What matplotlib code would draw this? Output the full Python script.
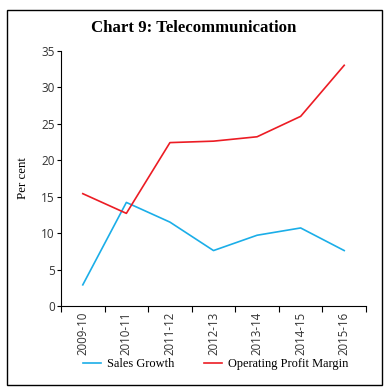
import matplotlib
matplotlib.use("Agg")
import matplotlib.pyplot as plt
from matplotlib.patches import Rectangle
import numpy as np

years = ["2009-10", "2010-11", "2011-12", "2012-13", "2013-14", "2014-15", "2015-16"]
sales_growth = [2.9, 14.2, 11.5, 7.6, 9.7, 10.7, 7.6]
op_margin = [15.4, 12.7, 22.4, 22.6, 23.2, 26.0, 33.0]

fig = plt.figure(figsize=(3.88, 3.92), dpi=100)
ax = fig.add_axes([61/388, 1-306/392, (366-61)/388, (306-50.7)/392])

x = np.arange(len(years))
ax.plot(x, sales_growth, color="#1BAEE8", lw=1.2, label="Sales Growth")
ax.plot(x, op_margin, color="#EC1C24", lw=1.2, label="Operating Profit Margin")

ax.set_xlim(-0.5, len(years) - 0.5)
ax.set_ylim(0, 35)
ax.set_yticks(range(0, 36, 5))
ax.set_xticks(np.arange(-0.5, len(years), 1.0))
ax.set_xticklabels([])
ax.set_xticks(x, minor=True)
ax.set_xticklabels(years, minor=True, rotation=90, fontsize=8.3, color="#333333",
                   family="Open Sans")
ax.tick_params(axis="x", which="minor", length=0, pad=4)
ax.tick_params(axis="x", which="major", length=4, width=0.8)
ax.tick_params(axis="y", length=3, width=0.8, labelsize=8.5, labelcolor="#333333", pad=1.5)
for lab in ax.get_yticklabels():
    lab.set_family("Open Sans")
for s in ["top", "right"]:
    ax.spines[s].set_visible(False)
for s in ["left", "bottom"]:
    ax.spines[s].set_linewidth(0.8)

ax.set_ylabel("Per cent", family="Liberation Serif", fontsize=9.3)
ax.yaxis.set_label_coords((29 - 61) / (366 - 61), 0.5)

fig.text(194/388, 1-28/392, "Chart 9: Telecommunication", ha="center", va="center",
         family="Liberation Serif", fontweight="bold", fontsize=12.1)

fig.legend(loc="center", bbox_to_anchor=(216/388, 1-364/392), ncol=2, frameon=False,
           prop={"family": "Liberation Serif", "size": 8.9}, handlelength=1.45,
           columnspacing=2.4, handletextpad=0.5)

fig.add_artist(Rectangle((7/388, 1-385/392), (382-7)/388, (385-10)/392,
                         transform=fig.transFigure, fill=False, lw=1.0, ec="black"))

fig.savefig("out.png", dpi=100)
